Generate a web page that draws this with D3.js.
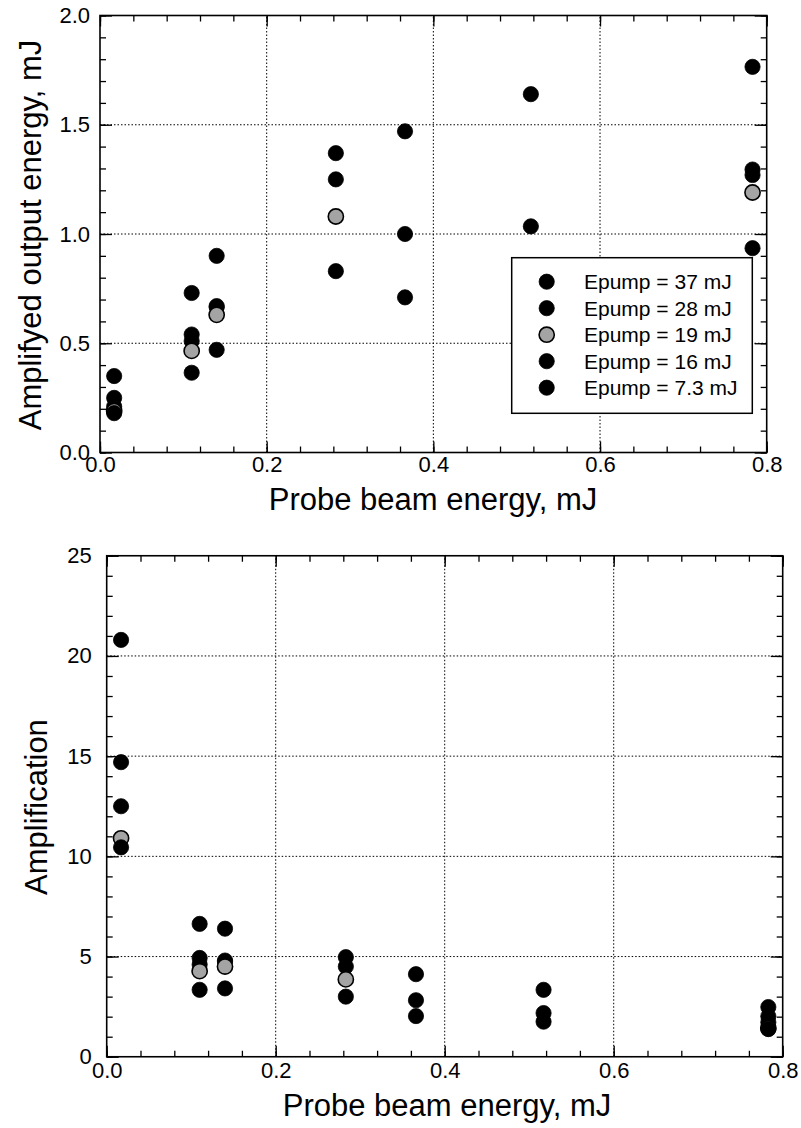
<!DOCTYPE html>
<html><head><meta charset="utf-8">
<script src="https://cdn.jsdelivr.net/npm/d3@7"></script>
<style>
html,body{margin:0;padding:0;background:#fff;}
svg{display:block;font-family:"Liberation Sans",Arial,sans-serif;}
</style></head>
<body>
<svg id="chart" width="801" height="1128"></svg>
<script>
// ---------- data ----------
const seriesNames = ["Epump = 37 mJ","Epump = 28 mJ","Epump = 19 mJ","Epump = 16 mJ","Epump = 7.3 mJ"];
const seriesFills = ["#000","#000","#a4a4a4","#000","#000"];
const drawOrder = [0,1,3,2,4];
const probe = [0.017, 0.110, 0.140, 0.283, 0.366, 0.517, 0.783];

// output energy, mJ (top panel)
const out37 = [0.35, 0.73, 0.90, 1.37, 1.47, 1.64, 1.765];
const out28 = [0.25, 0.54, 0.67, 1.25, 1.00, 1.035, 1.295];
const out19 = [0.19, 0.465, 0.63, 1.08, null, null, 1.19];
const out16 = [0.21, 0.51, 0.665, null, null, null, 1.27];
const out73 = [0.18, 0.365, 0.47, 0.83, 0.71, null, 0.935];

// amplification (bottom panel)
const amp37 = [20.8, 6.63, 6.39, 4.97, 4.12, 3.34, 2.48];
const amp28 = [14.7, 4.93, 4.74, 4.50, 2.82, 2.18, 2.02];
const amp19 = [10.9, 4.27, 4.50, 3.86, null, null, 1.42];
const amp16 = [12.5, 4.60, 4.80, null, null, 1.75, 1.72];
const amp73 = [10.45, 3.34, 3.41, 3.00, 2.03, null, 1.38];

const xTicks = [0.0, 0.2, 0.4, 0.6, 0.8];
const xTickLabels = ["0.0","0.2","0.4","0.6","0.8"];
const yTopTicks = [0.0, 0.5, 1.0, 1.5, 2.0];
const yTopTickLabels = ["0.0","0.5","1.0","1.5","2.0"];
const yBotTicks = [0, 5, 10, 15, 20, 25];
const yBotTickLabels = ["0","5","10","15","20","25"];

const topTitleX = "Probe beam energy, mJ";
const topTitleY = "Amplifyed output energy, mJ";
const botTitleX = "Probe beam energy, mJ";
const botTitleY = "Amplification";

// ---------- drawing ----------
const svg = d3.select("#chart");

function panel(cfg){
  const {x, y, xMinor, yMinor, xMajor, yMajor, series, yLabels, tickFont, yLabelOffset, xLabelOffset} = cfg;
  const g = svg.append("g");
  const [x0,x1] = x.range(), [y0,y1] = y.range();

  // grid
  g.append("g").selectAll("line").data(xMajor.slice(1,-1)).join("line")
    .attr("x1",d=>x(d)).attr("x2",d=>x(d)).attr("y1",y0).attr("y2",y1)
    .attr("stroke","#000").attr("stroke-width",1).attr("stroke-dasharray","1.5,2");
  g.append("g").selectAll("line").data(yMajor.slice(1,-1)).join("line")
    .attr("y1",d=>y(d)).attr("y2",d=>y(d)).attr("x1",x0).attr("x2",x1)
    .attr("stroke","#000").attr("stroke-width",1).attr("stroke-dasharray","1.5,2");

  // inward ticks via d3 axes
  const tickStyle = sel => { sel.select(".domain").remove(); sel.selectAll("line").attr("stroke","#000").attr("stroke-width",1.3); };
  g.append("g").attr("transform",`translate(0,${y0})`).call(d3.axisBottom(x).tickValues(xMinor).tickSize(-6).tickFormat("")).call(tickStyle);
  g.append("g").attr("transform",`translate(0,${y1})`).call(d3.axisTop(x).tickValues(xMinor).tickSize(-6).tickFormat("")).call(tickStyle);
  g.append("g").attr("transform",`translate(0,${y0})`).call(d3.axisBottom(x).tickValues(xMajor).tickSize(-11).tickFormat("")).call(tickStyle);
  g.append("g").attr("transform",`translate(0,${y1})`).call(d3.axisTop(x).tickValues(xMajor).tickSize(-11).tickFormat("")).call(tickStyle);
  g.append("g").attr("transform",`translate(${x0},0)`).call(d3.axisLeft(y).tickValues(yMinor).tickSize(-6).tickFormat("")).call(tickStyle);
  g.append("g").attr("transform",`translate(${x1},0)`).call(d3.axisRight(y).tickValues(yMinor).tickSize(-6).tickFormat("")).call(tickStyle);
  g.append("g").attr("transform",`translate(${x0},0)`).call(d3.axisLeft(y).tickValues(yMajor).tickSize(-12).tickFormat("")).call(tickStyle);
  g.append("g").attr("transform",`translate(${x1},0)`).call(d3.axisRight(y).tickValues(yMajor).tickSize(-12).tickFormat("")).call(tickStyle);

  // tick labels via d3 axes
  const lab = sel => { sel.select(".domain").remove(); sel.selectAll("line").remove();
    sel.attr("font-size",tickFont).attr("font-family","'Liberation Sans',Arial,sans-serif");
    sel.selectAll("text").attr("fill","#000").attr("font-size",tickFont); };
  g.append("g").attr("transform",`translate(0,${y0})`)
    .call(d3.axisBottom(x).tickValues(xMajor).tickSize(0).tickPadding(xLabelOffset).tickFormat((d,i)=>xTickLabels[i])).call(lab);
  g.append("g").attr("transform",`translate(${x0},0)`)
    .call(d3.axisLeft(y).tickValues(yMajor).tickSize(0).tickPadding(yLabelOffset).tickFormat((d,i)=>yLabels[i])).call(lab);

  // points
  const pts = g.append("g");
  drawOrder.forEach(si=>{
    const vals = series[si];
    pts.append("g").selectAll("circle")
      .data(probe.map((p,i)=>({p, v: vals[i]})).filter(d=>d.v!==null))
      .join("circle")
      .attr("cx",d=>x(d.p)).attr("cy",d=>y(d.v)).attr("r",7.6)
      .attr("fill",seriesFills[si]).attr("stroke","#000").attr("stroke-width",si===2?1.6:0.8);
  });

  // frame
  g.append("rect").attr("x",x0).attr("y",y1).attr("width",x1-x0).attr("height",y0-y1)
    .attr("fill","none").attr("stroke","#000").attr("stroke-width",1.6);
  return g;
}

// Top panel
const xT = d3.scaleLinear().domain([0,0.8]).range([100,766.7]);
const yT = d3.scaleLinear().domain([0,2]).range([452.5,15.5]);
panel({x:xT, y:yT, xMinor:d3.range(0,0.8001,0.04), yMinor:d3.range(0,2.0001,0.1),
  xMajor:xTicks, yMajor:yTopTicks, yLabels:yTopTickLabels,
  series:[out37,out28,out19,out16,out73], tickFont:22, yLabelOffset:10, xLabelOffset:4});

svg.append("text").attr("x",433).attr("y",510).attr("text-anchor","middle")
  .attr("font-size",31).text(topTitleX);
svg.append("text").attr("transform","translate(41,235) rotate(-90)").attr("text-anchor","middle")
  .attr("font-size",31).text(topTitleY);

// Legend
const lg = svg.append("g");
lg.append("rect").attr("x",511.7).attr("y",257.7).attr("width",240.6).attr("height",155.6)
  .attr("fill","#fff").attr("stroke","#000").attr("stroke-width",1.5);
const ly = d3.scalePoint().domain(seriesNames).range([281.7,387.7]);
lg.selectAll("circle").data(seriesNames).join("circle")
  .attr("cx",546.7).attr("cy",d=>ly(d)).attr("r",7.6)
  .attr("fill",(d,i)=>seriesFills[i]).attr("stroke","#000").attr("stroke-width",(d,i)=>i===2?1.6:0.8);
lg.selectAll("text").data(seriesNames).join("text")
  .attr("x",584).attr("y",d=>ly(d)+7.5).attr("font-size",21).text(d=>d);

// Bottom panel
const xB = d3.scaleLinear().domain([0,0.8]).range([106.7,782.7]);
const yB = d3.scaleLinear().domain([0,25]).range([1056.75,555.75]);
panel({x:xB, y:yB, xMinor:d3.range(0,0.8001,0.04), yMinor:d3.range(0,25.001,1),
  xMajor:xTicks, yMajor:yBotTicks, yLabels:yBotTickLabels,
  series:[amp37,amp28,amp19,amp16,amp73], tickFont:22, yLabelOffset:15, xLabelOffset:6});

svg.append("text").attr("x",447).attr("y",1116).attr("text-anchor","middle")
  .attr("font-size",31).text(botTitleX);
svg.append("text").attr("transform","translate(47,807) rotate(-90)").attr("text-anchor","middle")
  .attr("font-size",31).text(botTitleY);
</script>
</body></html>
